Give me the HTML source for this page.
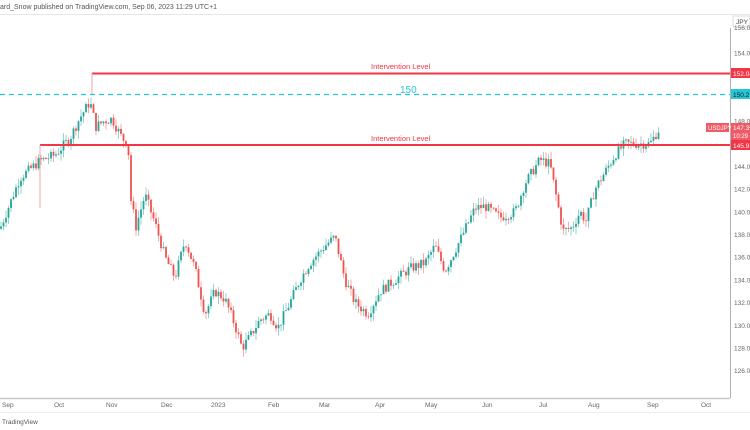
<!DOCTYPE html>
<html><head><meta charset="utf-8"><style>
body{margin:0;width:750px;height:430px;overflow:hidden;background:#fff;font-family:"Liberation Sans",sans-serif}
svg{display:block}
</style></head><body>
<svg id="s" width="750" height="430" viewBox="0 0 750 430" xmlns="http://www.w3.org/2000/svg" font-family="Liberation Sans, sans-serif">
<text x="0" y="9" font-size="7" fill="#555">ard_Snow published on TradingView.com, Sep 06, 2023 11:29 UTC+1</text>
<line x1="0" y1="14.5" x2="750" y2="14.5" stroke="#e6e6e6"/>
<line x1="730.5" y1="28" x2="730.5" y2="398" stroke="#b0b0b0"/>
<line x1="0" y1="398.5" x2="730" y2="398.5" stroke="#c8c8c8" stroke-width="1.5"/>
<line x1="0" y1="412.5" x2="750" y2="412.5" stroke="#eee"/>
<rect x="733" y="16" width="17" height="11" fill="#fff" stroke="#ddd"/>
<text x="736" y="24" font-size="6.5" fill="#444">JPY</text>
<text x="2" y="424" font-size="6.5" fill="#555">TradingView</text>
<g id="candles"></g>
<g id="axis" font-size="6.5" fill="#666"></g>
<g font-size="6.5" fill="#666">
<text x="2" y="407">Sep</text><text x="54" y="407">Oct</text><text x="106" y="407">Nov</text><text x="161" y="407">Dec</text><text x="211" y="407">2023</text><text x="268" y="407">Feb</text><text x="319" y="407">Mar</text><text x="375" y="407">Apr</text><text x="425" y="407">May</text><text x="482" y="407">Jun</text><text x="539" y="407">Jul</text><text x="588" y="407">Aug</text><text x="647" y="407">Sep</text><text x="701" y="407">Oct</text>
</g>
<line x1="0" y1="94.5" x2="730" y2="94.5" stroke="#26c6da" stroke-width="1.3" stroke-dasharray="5,4"/>
<text x="400" y="93" font-size="10" fill="#26c6da">150</text>
<line x1="92" y1="73.5" x2="730" y2="73.5" stroke="#f23645" stroke-width="2"/>
<line x1="92" y1="73" x2="92" y2="94" stroke="#f7a0a8" stroke-width="1"/>
<text x="371" y="69" font-size="7.5" fill="#f23645">Intervention Level</text>
<line x1="40" y1="145" x2="730" y2="145" stroke="#f23645" stroke-width="2"/>
<line x1="40" y1="145" x2="40" y2="208" stroke="#f7a0a8" stroke-width="1"/>
<text x="371" y="141" font-size="7.5" fill="#f23645">Intervention Level</text>
<rect x="731" y="68" width="19" height="10" fill="#f23645"/><text x="733" y="76" font-size="6.5" fill="#fff">152.04</text>
<rect x="731" y="89" width="19" height="10" fill="#26c6da"/><text x="733" y="97" font-size="6.5" fill="#111">150.2</text>
<rect x="706" y="123" width="23" height="9" fill="#f05a66"/><text x="708" y="130" font-size="6" fill="#fff">USDJPY</text>
<rect x="731" y="123" width="19" height="17" fill="#f05a66"/><text x="733" y="130" font-size="6.5" fill="#fff">147.39</text><text x="733" y="138" font-size="6" fill="#fff">10:29</text>
<rect x="731" y="140" width="19" height="10" fill="#f23645"/><text x="733" y="148" font-size="6.5" fill="#fff">145.9</text>
</svg>
<script>
var Y=function(p){return 121+(148-p)*11.35};
var ax=document.getElementById('axis'),h='';
[154,148,144,142,140,138,136,134,132,130,128,126].forEach(function(p){h+='<text x="734" y="'+(Y(p)+2.5)+'">'+p.toFixed(2)+'</text>'});
h+='<text x="734" y="30">156.00</text>';
ax.innerHTML=h;
var K=[[0,138.5],[20,143],[40,144.5],[55,145],[70,146.5],[80,148.3],[90,149.7],[96,147.5],[104,148],[112,148.2],[122,146.5],[128,146],[131,141],[136,138.7],[145,141.5],[155,139],[165,136],[175,134.2],[185,137.5],[195,135],[205,131],[215,133],[225,132.3],[235,130],[242,128],[250,129],[260,130.5],[270,131],[278,129.8],[290,132],[300,134],[310,135.5],[325,137],[335,137.8],[345,134],[355,132],[368,131],[380,133],[395,134],[410,135],[425,135.5],[435,137],[445,134.8],[460,137.5],[475,140.3],[485,140.5],[500,139.5],[515,140],[525,142.5],[540,144.6],[550,144.2],[557,141],[563,138.3],[572,138.6],[580,140],[586,139.2],[595,142],[605,143.5],[615,145],[625,146],[640,146],[650,146],[660,147.4]];
function P(x){for(var i=0;i<K.length-1;i++){if(x<=K[i+1][0]){var t=(x-K[i][0])/(K[i+1][0]-K[i][0]);return K[i][1]+t*(K[i+1][1]-K[i][1]);}}return K[K.length-1][1];}
var seed=7;function r(){seed=(seed*9301+49297)%233280;return seed/233280;}
var g='',prev=P(0);
for(var x=1;x<=660;x+=2.5){var c=P(x)+(r()-0.5)*0.9;var o=prev;var hi=Math.max(o,c)+r()*0.7,lo=Math.min(o,c)-r()*0.7;
var col=c>=o?'#26a69a':'#ef5350';
g+='<line x1="'+x+'" y1="'+Y(hi)+'" x2="'+x+'" y2="'+Y(lo)+'" stroke="'+col+'" stroke-width="0.7" opacity="0.7"/>';
var t=Y(Math.max(o,c)),b=Y(Math.min(o,c));if(b-t<0.8)b=t+0.8;
g+='<rect x="'+(x-0.9)+'" y="'+t+'" width="1.8" height="'+(b-t)+'" fill="'+col+'"/>';prev=c;}
document.getElementById('candles').innerHTML=g;
</script>
</body></html>
